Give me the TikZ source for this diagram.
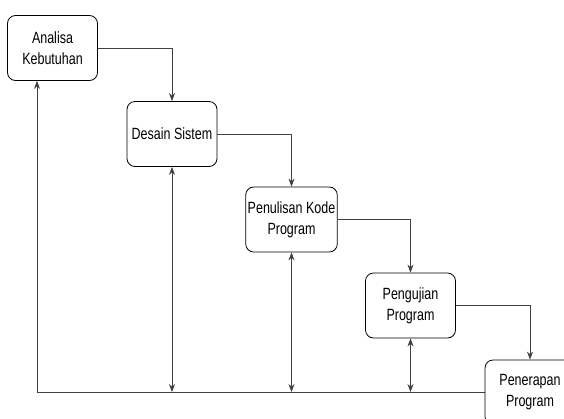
\documentclass[tikz,border=0pt]{standalone}
\usepackage{fontspec}
\usepackage{graphicx}
\setmainfont{Liberation Sans}
\usetikzlibrary{arrows.meta,calc}
\newcommand{\tall}[1]{\scalebox{1}[1.3]{#1}}

\begin{document}
\begin{tikzpicture}[x=1pt,y=-1pt,line width=0.8pt,
    main/.style = {draw, rounded corners=8pt, minimum width=90pt, minimum height=65pt,
      align=center, inner sep=2pt, font=\fontsize{12.5}{21}\selectfont, fill=white},
    flow/.style = {-{Stealth[length=8pt,width=6pt]}, draw=black!75},
    both/.style = {flow, {Stealth[length=8pt,width=6pt]}-{Stealth[length=8pt,width=6pt]}}]
      \useasboundingbox (0,0) rectangle (564,418);

      \node[main] at (52.5, 48) (1){\tall{Analisa}\\\tall{Kebutuhan}};
      \node[main] at (172, 134) (2){\tall{Desain Sistem}};
      \node[main] at (291.5, 219.5) (3){\tall{Penulisan Kode}\\\tall{Program}};
      \node[main] at (410.5, 305.5) (4){\tall{Pengujian}\\\tall{Program}};

      \coordinate (corner) at (37, 392);

      % bottom line back to the first step
      \draw[flow] (485, 392) -- (corner) -- (corner |- 1.south);

      \begin{scope}
        \clip (0,0) rectangle (564,418);
        \node[main] at (530, 392.5) (5){\tall{Penerapan}\\\tall{Program}};
      \end{scope}

      \draw[flow] (1.east) -| (2.north);
      \draw[flow] (2.east) -| (3.north);
      \draw[flow] (3.east) -| (4.north);
      \draw[flow] (4.east) -| (5.north);

      \draw[both] (2.south) -- (2.south |- corner);
      \draw[both] (3.south) -- (3.south |- corner);
      \draw[both] (4.south) -- (4.south |- corner);

    \end{tikzpicture}
\end{document}
